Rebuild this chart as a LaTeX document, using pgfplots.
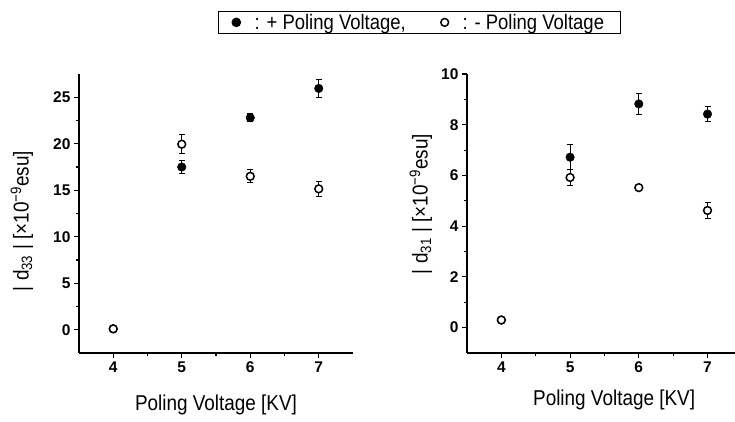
\documentclass[border=0pt]{standalone}
\usepackage{fontspec}
\setmainfont{Liberation Sans}
\newfontfamily\labelfont[FakeStretch=0.88]{Liberation Sans}
\usepackage{pgfplots}
\pgfplotsset{compat=1.18}

\pgfplotsset{
  panel/.style={
    scale only axis, anchor=south west, clip=false,
    axis x line*=bottom, axis y line*=left,
    axis line style={line width=1.2pt, -},
    tick align=outside, major tick length=5pt, minor tick length=3pt,
    every tick/.style={black, line width=1.1pt},
    xmin=3.5, xtick={4,5,6,7}, minor x tick num=1, minor y tick num=1,
    tick label style={font=\fontsize{15.5}{17}\selectfont\bfseries},
    /pgf/number format/assume math mode=true,
    label style={font=\labelfont\fontsize{21.5}{23}\selectfont},
  },
  plus/.style={only marks, black, mark=*, mark size=4.3pt,
    error bars/.cd, y dir=both, y explicit,
    error bar style={line width=1pt},
    error mark options={rotate=90, line width=1pt, mark size=3pt}},
  minus/.style={only marks, black, mark=*, mark size=3.9pt,
    mark options={fill=white, draw=black, line width=1.5pt},
    error bars/.cd, y dir=both, y explicit,
    error bar style={line width=1pt},
    error mark options={rotate=90, line width=1pt, mark size=3pt}},
}

\begin{document}
\begin{tikzpicture}
\path[use as bounding box] (0pt,0pt) rectangle (735pt,421pt);

% left panel: d33
\begin{axis}[panel, at={(79pt,68pt)}, width=274pt, height=279pt,
  xmax=7.5, ymin=-2.5, ymax=27.5, ytick={0,5,10,15,20,25},
  xlabel={Poling Voltage [KV]},
  ylabel={| d\textsubscript{33} | [×10\textsuperscript{−9}esu]},
  x label style={at={(axis description cs:0.5,-0.186)}, anchor=center},
  y label style={at={(axis description cs:-0.208,0.473)}, anchor=center},
  legend columns=2,
  legend image code/.code={\draw[#1] plot coordinates {(0pt,0pt)};},
  legend style={at={(axis description cs:1.241,1.185)}, anchor=center,
    draw=black, line width=1pt, font=\labelfont\fontsize{21}{23}\selectfont,
    inner xsep=14pt, inner ysep=0.5pt,
    /tikz/every odd column/.append style={column sep=12pt},
    /tikz/every even column/.append style={column sep=33pt}},
]
\addplot[plus] coordinates {
  (4,0.1) +- (0,0.1)
  (5,17.5) +- (0,0.65)
  (6,22.8) +- (0,0.4)
  (7,25.95) +- (0,1.0)
};
\addlegendentry{: + Poling Voltage,}
\addplot[minus] coordinates {
  (4,0.1) +- (0,0.1)
  (5,19.95) +- (0,1.0)
  (6,16.5) +- (0,0.7)
  (7,15.15) +- (0,0.8)
};
\addlegendentry{: - Poling Voltage}
\end{axis}

% right panel: d31
\begin{axis}[panel, at={(467pt,68pt)}, width=268pt, height=279pt,
  xmax=7.4, ymin=-1, ymax=10, ytick={0,2,4,6,8,10},
  xlabel={Poling Voltage [KV]},
  ylabel={| d\textsubscript{31} | [×10\textsuperscript{−9}esu]},
  x label style={at={(axis description cs:0.549,-0.168)}, anchor=center},
  y label style={at={(axis description cs:-0.172,0.534)}, anchor=center},
]
\addplot[plus] coordinates {
  (4,0.3) +- (0,0.05)
  (5,6.72) +- (0,0.5)
  (6,8.82) +- (0,0.4)
  (7,8.42) +- (0,0.3)
};
\addplot[minus] coordinates {
  (4,0.3) +- (0,0.05)
  (5,5.92) +- (0,0.3)
  (6,5.52) +- (0,0.1)
  (7,4.62) +- (0,0.3)
};
\end{axis}
\end{tikzpicture}
\end{document}
